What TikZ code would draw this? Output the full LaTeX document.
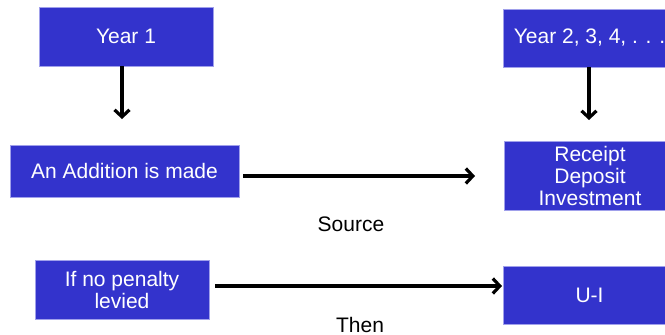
\documentclass[tikz,border=0pt]{standalone}
\usepackage{fontspec}
\setmainfont{Liberation Sans}
\usetikzlibrary{arrows.meta}
\definecolor{boxblue}{RGB}{51,51,204}
\definecolor{boxedge}{RGB}{160,160,235}
\begin{document}
\begin{tikzpicture}[x=1pt,y=-1pt,
  bluebox/.style={rectangle,fill=boxblue,draw=boxedge,line width=0.6pt,text=white,
    font=\fontsize{21}{22}\selectfont,align=center,inner sep=0pt},
  arr/.style={line width=3.2pt,-{Straight Barb[length=7pt,width=15pt,line width=3.2pt]}},
  lbl/.style={font=\fontsize{21}{22}\selectfont,text=black,inner sep=0pt}]
\clip (0,0) rectangle (665,335);
\fill[white] (0,0) rectangle (665,335);
\node[bluebox,minimum width=174pt,minimum height=59pt] (y1) at (126,36.5) {Year 1};
\node[bluebox,minimum width=173pt,minimum height=58pt] (y2) at (589.5,38) {Year 2, 3, 4, . . .};
\node[bluebox,minimum width=229pt,minimum height=52pt] (add) at (124.5,171) {An Addition is made};
\node[bluebox,minimum width=172pt,minimum height=69pt] (rdi) at (590,175.5) {Receipt\\Deposit\\Investment};
\node[bluebox,minimum width=174pt,minimum height=59pt] (pen) at (122,289.5) {If no penalty\\levied};
\node[bluebox,minimum width=173pt,minimum height=58pt] (ui) at (589.5,295) {U-I};
\node[lbl,anchor=base] (src) at (351,231) {Source};
\node[lbl,anchor=base] (then) at (360,332) {Then};
\coordinate (e1) at (122,119);
\coordinate (e2) at (589,120);
\coordinate (e3) at (475,176);
\coordinate (e4) at (502,286);
\draw[arr] (y1.south -| e1) -- (e1);
\draw[arr] (y2.south -| e2) -- (e2);
\draw[arr] ([xshift=4pt]add.east |- e3) -- (e3);
\draw[arr] ([xshift=6pt]pen.east |- e4) -- (e4);
\end{tikzpicture}
\end{document}
